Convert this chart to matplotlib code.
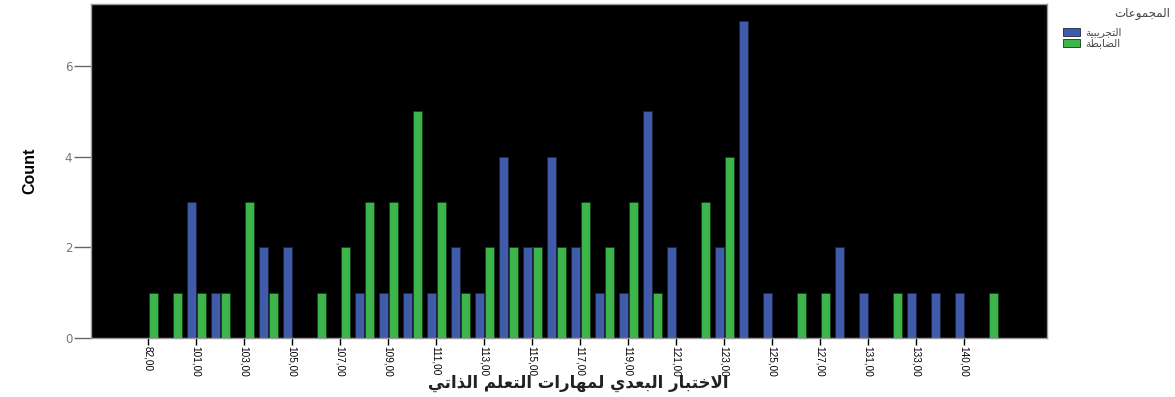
import matplotlib
matplotlib.use('Agg')
import matplotlib.pyplot as plt
import numpy as np

# score categories (post-test) and counts per group
scores = ['82,00', '100,00', '101,00', '102,00', '103,00', '104,00', '105,00', '106,00',
          '107,00', '108,00', '109,00', '110,00', '111,00', '112,00', '113,00', '114,00',
          '115,00', '116,00', '117,00', '118,00', '119,00', '120,00', '121,00', '122,00',
          '123,00', '124,00', '125,00', '126,00', '127,00', '129,00', '131,00', '132,00',
          '133,00', '135,00', '140,00', '142,00']
experimental = [0, 0, 3, 1, 0, 2, 2, 0, 0, 1, 1, 1, 1, 2, 1, 4, 2, 4, 2, 1, 1, 5, 2, 0,
                2, 7, 1, 0, 0, 2, 1, 0, 1, 1, 1, 0]
control = [1, 1, 1, 1, 3, 1, 0, 1, 2, 3, 3, 5, 3, 1, 2, 2, 2, 2, 3, 2, 3, 1, 0, 3,
           4, 0, 0, 1, 1, 0, 0, 1, 0, 0, 0, 1]

# Arabic presentation forms: (isolated, final, initial, medial)
FORMS = {
    'ا': (0xFE8D, 0xFE8E, None, None), 'ب': (0xFE8F, 0xFE90, 0xFE91, 0xFE92),
    'ة': (0xFE93, 0xFE94, None, None), 'ت': (0xFE95, 0xFE96, 0xFE97, 0xFE98),
    'ج': (0xFE9D, 0xFE9E, 0xFE9F, 0xFEA0), 'خ': (0xFEA5, 0xFEA6, 0xFEA7, 0xFEA8),
    'د': (0xFEA9, 0xFEAA, None, None), 'ذ': (0xFEAB, 0xFEAC, None, None),
    'ر': (0xFEAD, 0xFEAE, None, None), 'ض': (0xFEBD, 0xFEBE, 0xFEBF, 0xFEC0),
    'ط': (0xFEC1, 0xFEC2, 0xFEC3, 0xFEC4), 'ع': (0xFEC9, 0xFECA, 0xFECB, 0xFECC),
    'ل': (0xFEDD, 0xFEDE, 0xFEDF, 0xFEE0), 'م': (0xFEE1, 0xFEE2, 0xFEE3, 0xFEE4),
    'ه': (0xFEE9, 0xFEEA, 0xFEEB, 0xFEEC), 'و': (0xFEED, 0xFEEE, None, None),
    'ي': (0xFEF1, 0xFEF2, 0xFEF3, 0xFEF4),
    'ﻻ': (0xFEFB, 0xFEFC, None, None),
}


def shape_word(word):
    word = word.replace('لا', 'ﻻ')
    out = []
    for i, ch in enumerate(word):
        f = FORMS[ch]
        prev_joins = i > 0 and FORMS[word[i - 1]][2] is not None
        can_join_next = f[2] is not None and i < len(word) - 1
        if prev_joins and can_join_next:
            code = f[3]
        elif prev_joins:
            code = f[1]
        elif can_join_next:
            code = f[2]
        else:
            code = f[0]
        out.append(chr(code))
    return ''.join(out)


def arabic(text):
    # shape each word, then lay out right to left
    return ' '.join(shape_word(w)[::-1] for w in text.split()[::-1])


fig = plt.figure(figsize=(11.75, 3.97), dpi=100)
ax = fig.add_axes([91 / 1175, 1 - 338 / 397, (1047 - 91) / 1175, (338 - 4) / 397])
ax.set_facecolor('black')

x = np.arange(len(scores))
w = 0.37
ax.bar(x - 0.2, experimental, width=w, color='#3f5ba9', edgecolor='#1a2340', linewidth=0.6,
       label=arabic('التجريبية'))
ax.bar(x + 0.22, control, width=w, color='#3db54a', edgecolor='#143d1a', linewidth=0.6,
       label=arabic('الضابطة'))

ax.set_xlim(-2.38, len(scores) - 1 + 2.46)
ax.set_ylim(0, 7.37)
ax.set_yticks([0, 2, 4, 6])
ax.tick_params(axis='y', colors='#666666', labelcolor='#777777', labelsize=8.5,
               length=12, width=1, pad=1.5)

shown = x[::2]
ax.set_xticks(shown)
ax.set_xticklabels([scores[i] for i in shown], rotation=270,
                   family='Liberation Sans', fontsize=7.2)
ax.tick_params(axis='x', length=5, width=1, pad=0.5)

for s in ax.spines.values():
    s.set_color('#999999')
    s.set_linewidth(1)

ax.set_ylabel('Count', family='Liberation Sans', fontweight='bold', fontsize=11.5)
ax.yaxis.set_label_coords(-0.056, 0.5)

fig.text(578 / 1175, 1 - 383 / 397, arabic('الاختبار البعدي لمهارات التعلم الذاتي'),
         ha='center', va='center', fontsize=12, fontweight='bold', color='#222222')

leg = fig.legend(loc='upper left', bbox_to_anchor=(1058 / 1175, 1 - 22 / 397),
                 frameon=False, fontsize=7.5, handlelength=1.6, handleheight=0.8,
                 handletextpad=0.5, labelspacing=0.1, borderpad=0)
for t in leg.get_texts():
    t.set_color('#444444')
fig.text(1170 / 1175, 1 - 14 / 397, arabic('المجموعات'), ha='right', va='center',
         fontsize=8.5, color='#444444')

fig.savefig('out.png', dpi=100, facecolor='white')
